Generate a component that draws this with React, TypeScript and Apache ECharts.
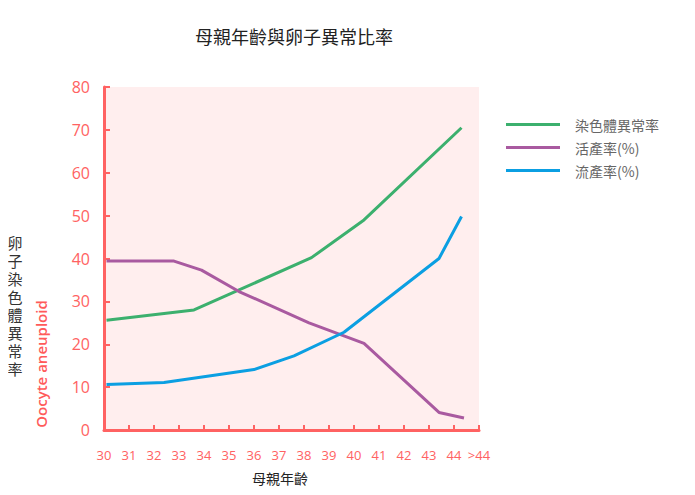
import React, { useEffect, useRef } from "react";
import * as echarts from "echarts";

const seriesNames = ["染色體異常率", "活產率(%)", "流產率(%)"];
const colors = ["#3cb06e", "#a95aa0", "#0b9fe2"];

// [age, value] pairs
const aneuploidy: [number, number][] = [
  [30.1, 25.6], [33.6, 28.0], [38.3, 40.2], [40.4, 49.0], [44.3, 70.5],
];
const liveBirth: [number, number][] = [
  [30.1, 39.4], [32.8, 39.4], [33.9, 37.3], [35.4, 32.3], [38.2, 25.0],
  [40.4, 20.2], [43.4, 4.1], [44.4, 2.8],
];
const miscarriage: [number, number][] = [
  [30.1, 10.6], [32.4, 11.1], [36.0, 14.1], [37.6, 17.3], [39.6, 22.8],
  [43.4, 40.0], [44.3, 49.8],
];

const xTickLabels: Record<number, string> = { 45: ">44" };
const yTitleChars = ["卵", "子", "染", "色", "體", "異", "常", "率"];

const FONT = "'Open Sans', 'Noto Sans CJK TC', sans-serif";
const CJK = "'Noto Sans CJK TC', sans-serif";
const STACK = "'Liberation Sans', 'Noto Sans CJK TC', sans-serif";
const RED = "#ff6262";

export default function App() {
  const ref = useRef<HTMLDivElement>(null);
  useEffect(() => {
    if (!ref.current) return;
    const chart = echarts.init(ref.current, undefined, { renderer: "svg" });
    const data = [aneuploidy, liveBirth, miscarriage];
    chart.setOption({
      animation: false,
      title: {
        text: "母親年齡與卵子異常比率",
        left: 190,
        top: 22,
        textStyle: { fontFamily: CJK, fontSize: 18, fontWeight: "normal", color: "#222" },
      },
      legend: {
        orient: "vertical",
        left: 501,
        top: 112,
        itemWidth: 54,
        itemHeight: 3,
        itemGap: 8,
        icon: "rect",
        data: seriesNames,
        textStyle: { fontFamily: CJK, fontSize: 14, color: "#666", padding: [0, 0, 0, 10], lineHeight: 15 },
      },
      grid: {
        left: 104,
        right: 216,
        top: 87,
        bottom: 65,
        show: true,
        backgroundColor: "#ffeeee",
        borderWidth: 0,
      },
      xAxis: {
        type: "value",
        min: 30,
        max: 45,
        interval: 1,
        splitLine: { show: false },
        axisLine: { lineStyle: { color: RED, width: 3 } },
        axisTick: { inside: true, length: 5, lineStyle: { color: RED, width: 2 } },
        axisLabel: {
          color: RED,
          fontFamily: FONT,
          fontSize: 13,
          margin: 18,
          formatter: (v: number) => xTickLabels[v] ?? String(v),
        },
      },
      yAxis: {
        type: "value",
        min: 0,
        max: 80,
        interval: 10,
        splitLine: { show: false },
        axisLine: { show: true, lineStyle: { color: RED, width: 3 } },
        axisTick: { show: true, inside: true, length: 6, lineStyle: { color: RED, width: 2 } },
        axisLabel: { color: RED, fontFamily: FONT, fontSize: 16, margin: 14 },
      },
      graphic: [
        {
          type: "text",
          left: 252,
          top: 471,
          style: { text: "母親年齡", font: `14px ${CJK}`, fill: "#222" },
        },
        ...yTitleChars.map((ch, i) => ({
          type: "text",
          x: 15,
          y: 243 + i * 18,
          style: {
            text: ch,
            font: `15px ${STACK}`,
            fill: "#333",
            align: "center",
            verticalAlign: "middle",
          },
        })),
        {
          type: "text",
          x: 41,
          y: 364,
          rotation: Math.PI / 2,
          style: {
            text: "Oocyte aneuploid",
            font: `600 15px ${FONT}`,
            fill: "#ff5a5a",
            align: "center",
            verticalAlign: "middle",
          },
        },
      ],
      series: seriesNames.map((name, i) => ({
        name,
        type: "line",
        data: data[i],
        showSymbol: false,
        symbol: "none",
        lineStyle: { color: colors[i], width: 3 },
        itemStyle: { color: colors[i] },
      })),
    });
    return () => chart.dispose();
  }, []);
  return <div ref={ref} style={{ width: 695, height: 495, marginLeft: -8, marginTop: -8 }} />;
}
